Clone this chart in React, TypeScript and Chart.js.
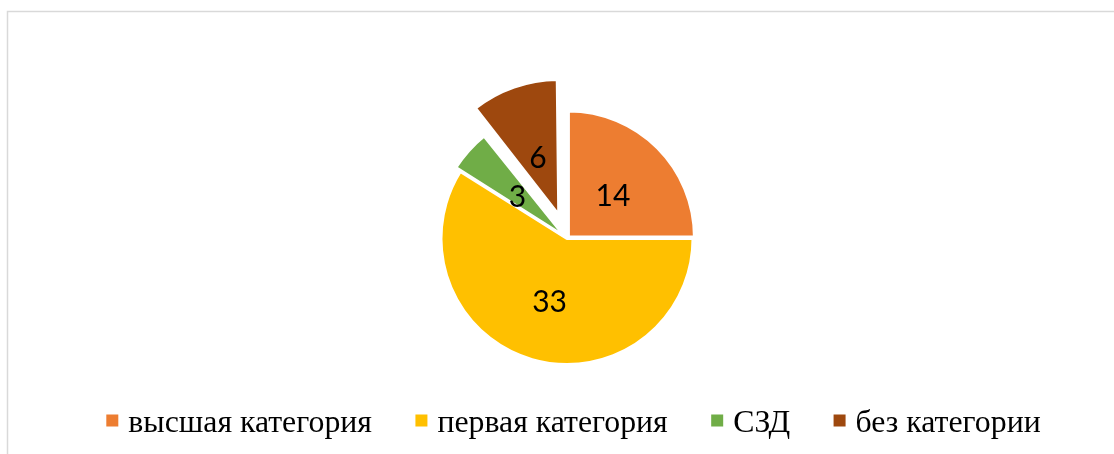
import React, { useEffect, useRef } from "react";
import { Chart, registerables } from "chart.js";

Chart.register(...registerables);

const categories = ["высшая категория", "первая категория", "СЗД", "без категории"];
const values = [14, 33, 3, 6];
const colors = ["#ED7D31", "#FFC000", "#70AD47", "#9E480E"];
// Chart.js v4 shifts arcs by offset / 4 pixels
const explode = [8, 0, 14, 100];

const W = 1114;
const H = 454;

const framePlugin = {
  id: "frame",
  beforeDraw(chart: any) {
    const ctx = chart.ctx;
    ctx.save();
    ctx.fillStyle = "#ffffff";
    ctx.fillRect(0, 0, W, H);
    ctx.strokeStyle = "#d9d9d9";
    ctx.lineWidth = 1.5;
    ctx.beginPath();
    ctx.moveTo(7.5, H);
    ctx.lineTo(7.5, 11.5);
    ctx.lineTo(W, 11.5);
    ctx.stroke();
    ctx.restore();
  },
};

const sliceLabelPlugin = {
  id: "sliceLabels",
  afterDatasetsDraw(chart: any) {
    const ctx = chart.ctx;
    const meta = chart.getDatasetMeta(0);
    const data = chart.data.datasets[0].data;
    ctx.save();
    ctx.font = '30px Lato';
    ctx.fillStyle = "#000000";
    ctx.textAlign = "center";
    ctx.textBaseline = "alphabetic";
    meta.data.forEach((arc: any, i: number) => {
      const p = arc.getProps(["x", "y", "startAngle", "endAngle", "outerRadius"], true);
      const off = (arc.options.offset || 0) / 4;
      const mid = (p.startAngle + p.endAngle) / 2;
      const r = off + p.outerRadius * 0.5;
      ctx.fillText(String(data[i]), p.x + Math.cos(mid) * r, p.y + Math.sin(mid) * r + 13);
    });
    ctx.restore();
  },
};

const legendPlugin = {
  id: "bottomLegend",
  afterDraw(chart: any) {
    const ctx = chart.ctx;
    const labels: string[] = chart.data.labels;
    const bg: string[] = chart.data.datasets[0].backgroundColor;
    ctx.save();
    ctx.font = '31.8px "Liberation Serif"';
    ctx.textAlign = "left";
    ctx.textBaseline = "alphabetic";
    const box = 12;
    const gapText = 10;
    const gapItems = 43.5;
    const widths = labels.map((t) => ctx.measureText(t).width);
    const total = widths.reduce((s, w) => s + box + gapText + w, 0) + gapItems * (labels.length - 1);
    let x = 573.5 - total / 2;
    labels.forEach((t, i) => {
      ctx.fillStyle = bg[i];
      ctx.fillRect(x, 414.5, box, box);
      ctx.fillStyle = "#000000";
      ctx.fillText(t, x + box + gapText, 431.5);
      x += box + gapText + widths[i] + gapItems;
    });
    ctx.restore();
  },
};

export default function App() {
  const ref = useRef<HTMLCanvasElement | null>(null);
  useEffect(() => {
    if (!ref.current) return;
    const chart = new Chart(ref.current, {
      type: "pie",
      data: {
        labels: categories,
        datasets: [
          {
            data: values,
            backgroundColor: colors,
            borderColor: "#ffffff",
            borderWidth: 3,
            offset: explode,
          },
        ],
      },
      options: {
        responsive: false,
        animation: false,
        radius: 126,
        layout: { padding: { left: 20, right: 0, top: 23, bottom: 0 } },
        plugins: {
          legend: { display: false },
          tooltip: { enabled: false },
        },
      } as any,
      plugins: [framePlugin, sliceLabelPlugin, legendPlugin],
    });
    return () => chart.destroy();
  }, []);
  return (
    <div style={{ position: "fixed", left: 0, top: 0, width: W, height: H, background: "#fff" }}>
      <canvas ref={ref} width={W} height={H} style={{ display: "block" }} />
    </div>
  );
}
